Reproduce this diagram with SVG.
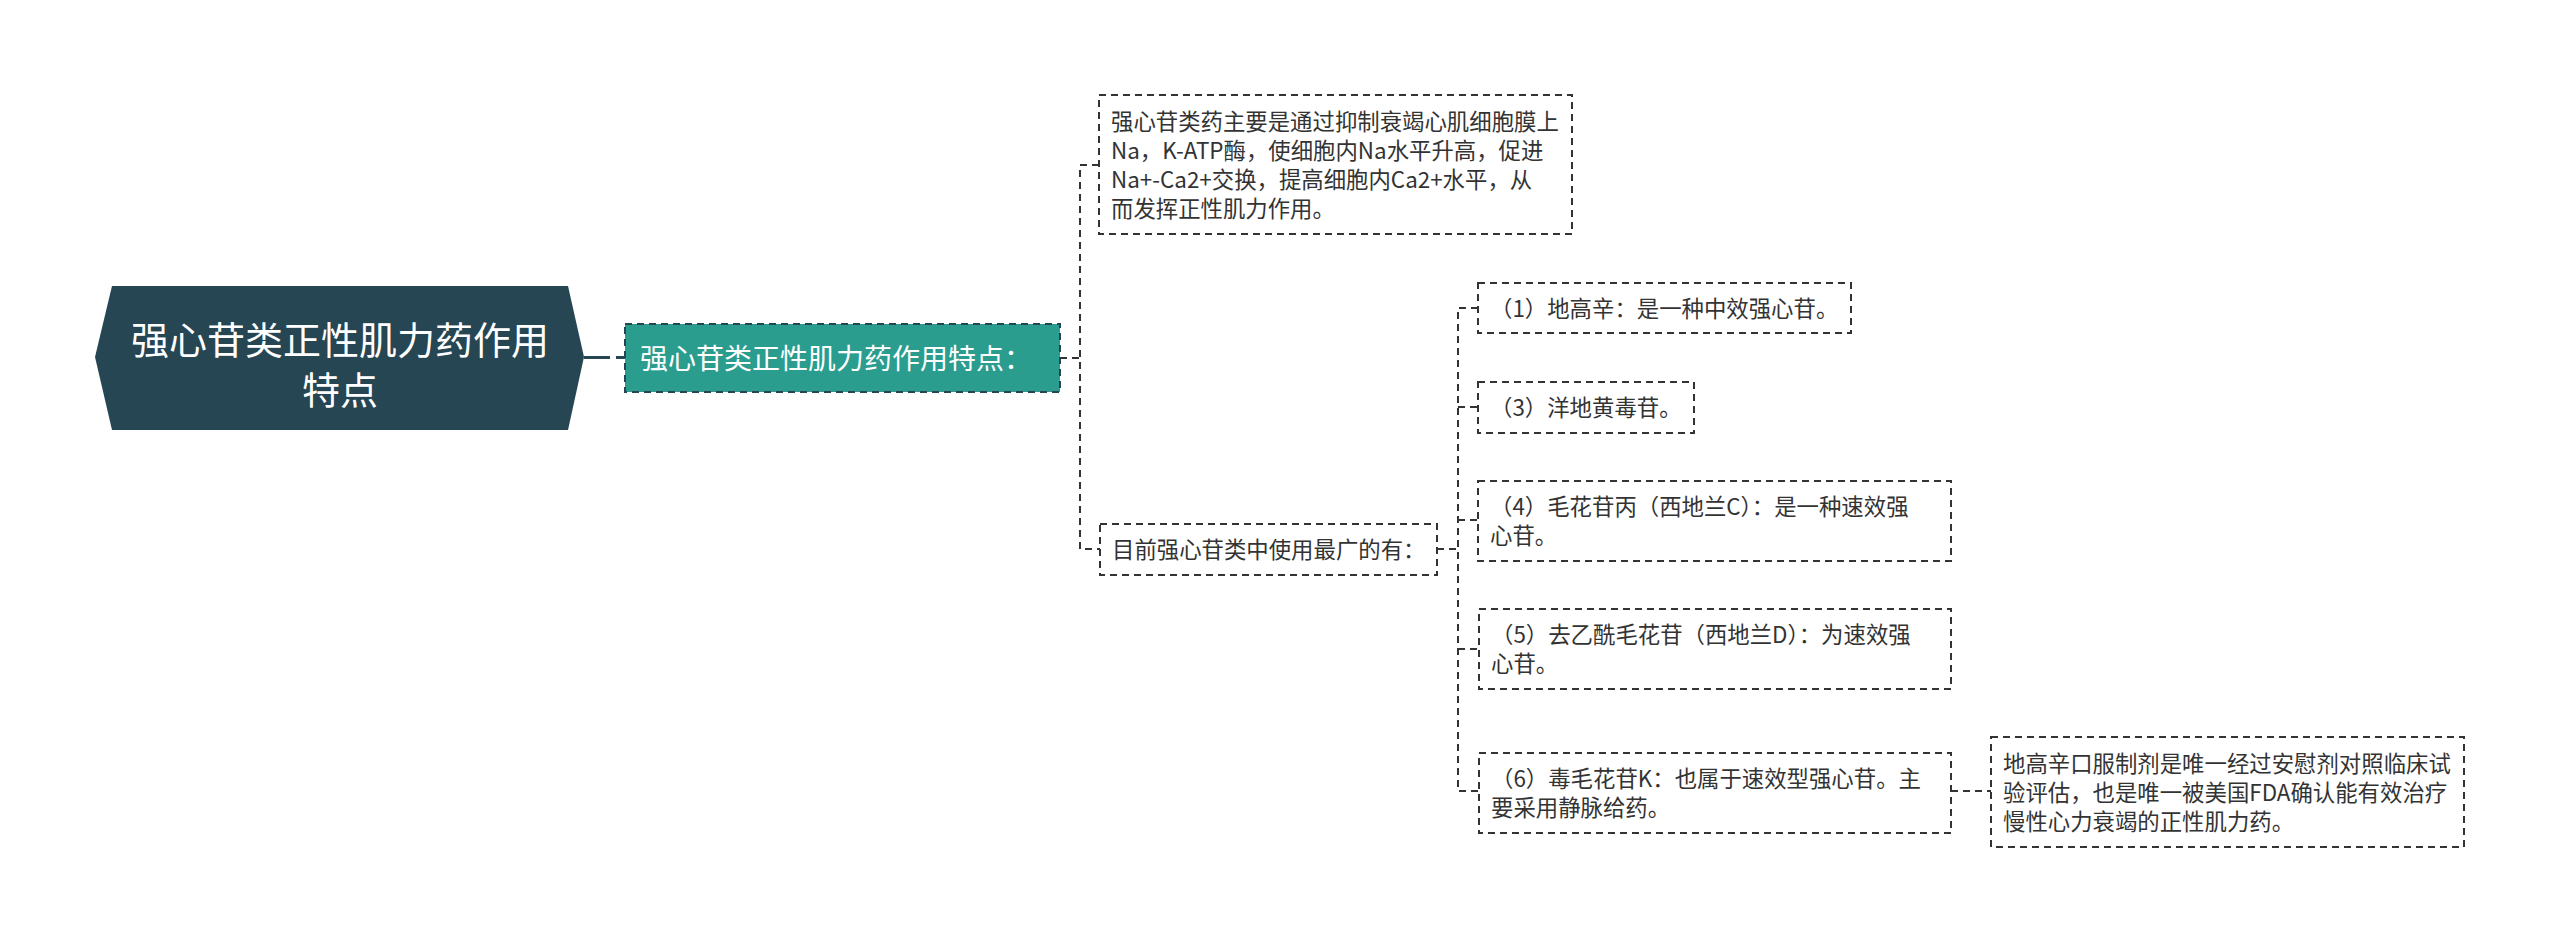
<svg xmlns="http://www.w3.org/2000/svg" width="2560" height="943" viewBox="0 0 2560 943">
<style>
text{font-family:"Noto Sans CJK SC","Noto Sans",sans-serif;}
.t{font-size:22.4px;fill:#333;}
.box{fill:#fff;stroke:#333;stroke-width:2;stroke-dasharray:7 5;}
.ln{fill:none;stroke:#333;stroke-width:2;stroke-dasharray:7 5;}
</style>
<rect width="2560" height="943" fill="#fff"/>
<g id="connectors">
<line x1="584" y1="357.5" x2="625" y2="357.5" stroke="#264653" stroke-width="3" stroke-dasharray="26 6"/>
<path class="ln" d="M1060 358H1080"/>
<path class="ln" d="M1099 165H1080V549H1100"/>
<path class="ln" d="M1437 549H1458"/>
<path class="ln" d="M1478 308H1458V791H1479"/>
<path class="ln" d="M1458 407H1478"/>
<path class="ln" d="M1458 520H1478"/>
<path class="ln" d="M1458 649H1479"/>
<path class="ln" d="M1951 791H1991"/>
</g>
<g id="root">
<polygon points="112,286 568,286 584,357 568,430 112,430 95,357" fill="#264653"/>
<text x="340" y="354" font-size="38" fill="#fff" text-anchor="middle">强心苷类正性肌力药作用</text>
<text x="340" y="404" font-size="38" fill="#fff" text-anchor="middle">特点</text>
</g>
<g id="n-main">
<rect x="625" y="324" width="435" height="68" fill="#2a9d8f" stroke="#264653" stroke-width="2" stroke-dasharray="7 5"/>
<text x="640" y="368.5" font-size="28" fill="#fff">强心苷类正性肌力药作用特点：</text>
</g>
<g id="n-mech">
<rect class="box" x="1099" y="95" width="473" height="139"/>
<text class="t" x="1111" y="129.5">强心苷类药主要是通过抑制衰竭心肌细胞膜上</text>
<text class="t" x="1111" y="158.5">Na，K-ATP酶，使细胞内Na水平升高，促进</text>
<text class="t" x="1111" y="187.5">Na+-Ca2+交换，提高细胞内Ca2+水平，从</text>
<text class="t" x="1111" y="216.5">而发挥正性肌力作用。</text>
</g>
<g id="n-most">
<rect class="box" x="1100" y="524" width="337" height="51"/>
<text class="t" x="1112" y="558">目前强心苷类中使用最广的有：</text>
</g>
<g id="n1">
<rect class="box" x="1478" y="283" width="373" height="50"/>
<text class="t" x="1490" y="316.5">（1）地高辛：是一种中效强心苷。</text>
</g>
<g id="n3">
<rect class="box" x="1478" y="382" width="216" height="51"/>
<text class="t" x="1490" y="416">（3）洋地黄毒苷。</text>
</g>
<g id="n4">
<rect class="box" x="1478" y="481" width="473" height="80"/>
<text class="t" x="1490" y="515">（4）毛花苷丙（西地兰C）：是一种速效强</text>
<text class="t" x="1490" y="544">心苷。</text>
</g>
<g id="n5">
<rect class="box" x="1479" y="609" width="472" height="80"/>
<text class="t" x="1491" y="643">（5）去乙酰毛花苷（西地兰D）：为速效强</text>
<text class="t" x="1491" y="672">心苷。</text>
</g>
<g id="n6">
<rect class="box" x="1479" y="753" width="472" height="80"/>
<text class="t" x="1491" y="787">（6）毒毛花苷K：也属于速效型强心苷。主</text>
<text class="t" x="1491" y="816">要采用静脉给药。</text>
</g>
<g id="n-digoxin">
<rect class="box" x="1991" y="737" width="473" height="110"/>
<text class="t" x="2003" y="771.5">地高辛口服制剂是唯一经过安慰剂对照临床试</text>
<text class="t" x="2003" y="800.5">验评估，也是唯一被美国FDA确认能有效治疗</text>
<text class="t" x="2003" y="829.5">慢性心力衰竭的正性肌力药。</text>
</g>
</svg>
